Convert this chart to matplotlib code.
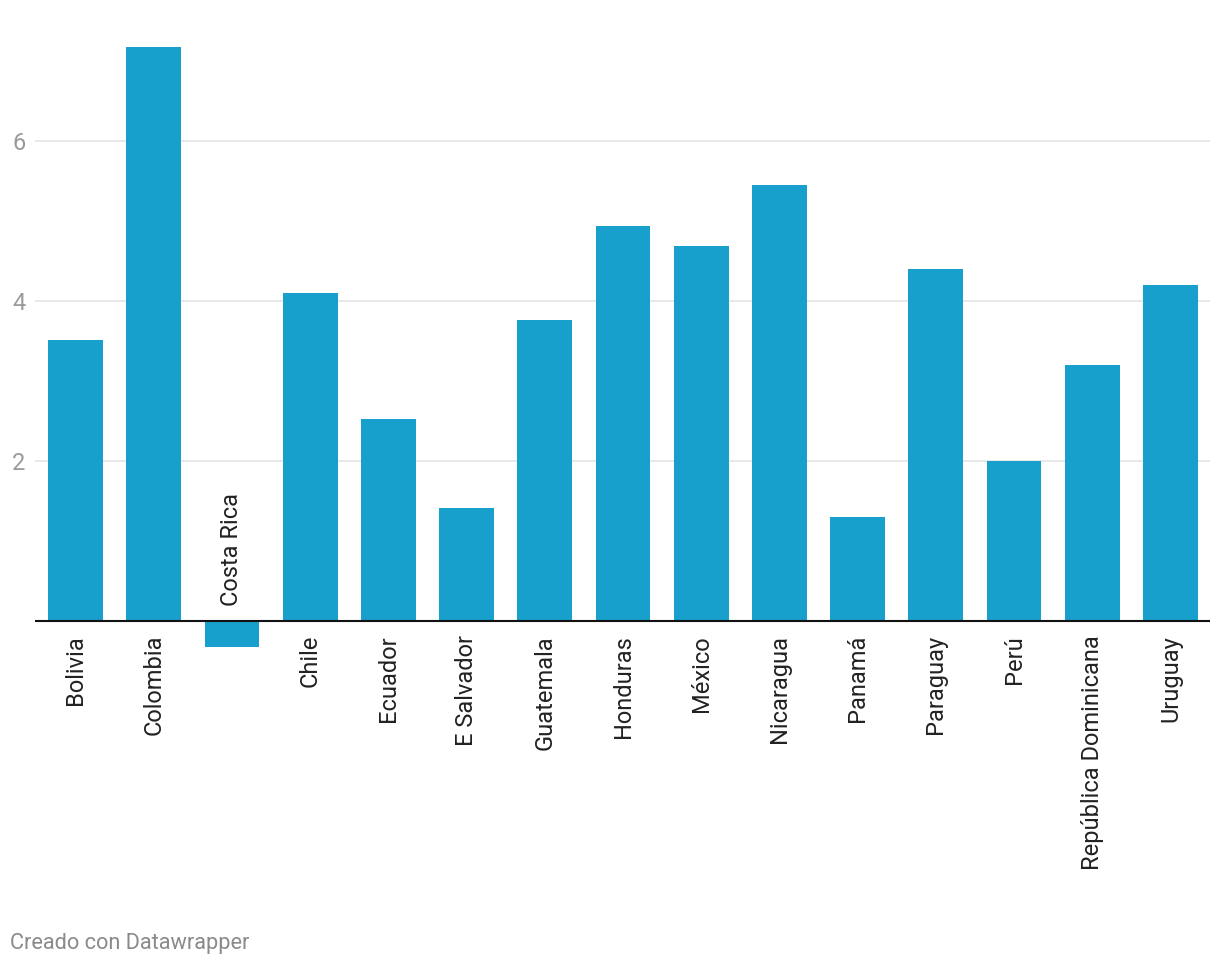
import matplotlib
matplotlib.use("Agg")
import matplotlib.pyplot as plt

countries = ["Bolivia", "Colombia", "Costa Rica", "Chile", "Ecuador", "E Salvador",
             "Guatemala", "Honduras", "México", "Nicaragua", "Panamá", "Paraguay",
             "Perú", "República Dominicana", "Uruguay"]
values = [3.51, 7.18, -0.33, 4.10, 2.53, 1.41, 3.76, 4.94, 4.69, 5.45, 1.30, 4.40,
          2.00, 3.20, 4.20]
yticks = [2, 4, 6]

plt.rcParams['font.family'] = ['Roboto', 'DejaVu Sans']

W, H = 1220, 968
fig = plt.figure(figsize=(W / 100, H / 100), dpi=100)
# axes placed in pixel terms: x 35..1210, y 20..700 (baseline ends up at 621)
ax = fig.add_axes([35 / W, (H - 700) / H, (1210 - 35) / W, 680 / H])

x = list(range(len(countries)))
ax.bar(x, values, width=0.70, color="#18a0cc", zorder=2)

ax.set_xlim(-0.518, len(countries) - 1 + 0.505)
ax.set_ylim(-79 / 80, 601 / 80)

for y in yticks:
    ax.axhline(y, color="#e2e2e2", lw=1.1, zorder=1)
ax.axhline(0, color="#111111", lw=1.5, zorder=3)

ax.set_yticks(yticks)
ax.set_yticklabels([str(t) for t in yticks], color="#9a9a9a", fontsize=17)
ax.tick_params(axis="y", length=0, pad=7)
ax.set_xticks([])
for s in ax.spines.values():
    s.set_visible(False)

for i, (name, v) in enumerate(zip(countries, values)):
    if v < 0:
        ax.annotate(name, xy=(i, 0), xytext=(0, 11), textcoords="offset points",
                    rotation=90, ha="center", va="bottom", fontsize=17, color="#222222")
    else:
        ax.annotate(name, xy=(i, 0), xytext=(0, -10), textcoords="offset points",
                    rotation=90, ha="center", va="top", fontsize=17, color="#222222")

fig.text(10 / W, 1 - 944 / H, "Creado con Datawrapper", fontsize=15.7,
         color="#8a8a8a", ha="left", va="center")

fig.savefig("out.png", dpi=100)
